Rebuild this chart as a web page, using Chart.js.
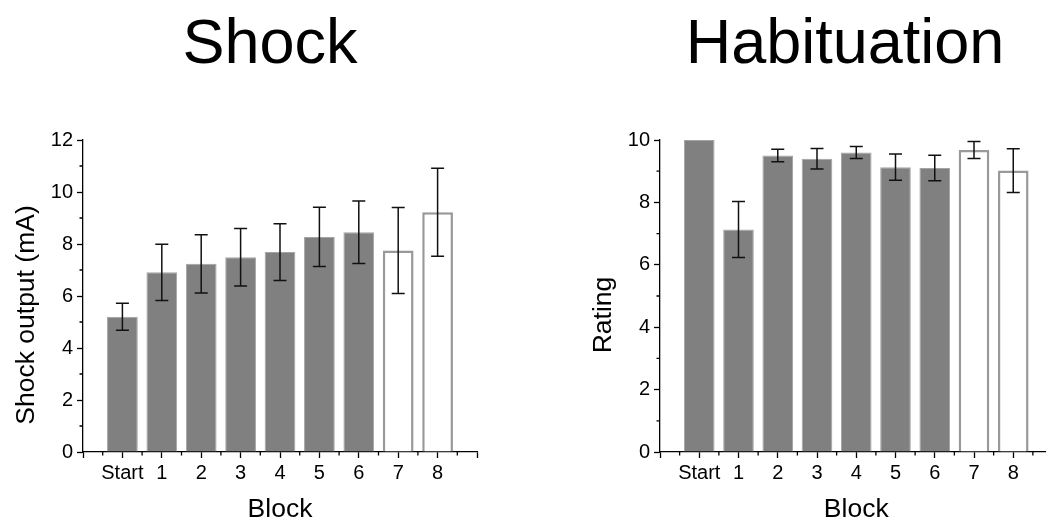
<!DOCTYPE html>
<html><head><meta charset="utf-8">
<script src="https://cdn.jsdelivr.net/npm/chart.js@4/dist/chart.umd.min.js"></script>
<style>
html,body{margin:0;padding:0;overflow:hidden;background:#fff;width:1046px;height:521px;position:relative}
canvas{position:absolute;top:0}
#c1{left:0}
#c2{left:590px}
</style></head><body>
<canvas id="c1" width="540" height="521"></canvas>
<canvas id="c2" width="510" height="521"></canvas>
<script>
const categories = ['Start', '1', '2', '3', '4', '5', '6', '7', '8'];
const shockMean = [5.2, 6.91, 7.24, 7.49, 7.69, 8.27, 8.45, 7.75, 9.22];
const shockErr = [0.52, 1.08, 1.12, 1.11, 1.09, 1.14, 1.2, 1.65, 1.69];
const ratingMean = [10.0, 7.13, 9.5, 9.4, 9.6, 9.13, 9.1, 9.68, 9.02];
const ratingErr = [null, 0.9, 0.2, 0.33, 0.19, 0.42, 0.41, 0.27, 0.7];
const shockTicks = [0, 2, 4, 6, 8, 10, 12];
const ratingTicks = [0, 2, 4, 6, 8, 10];
const openFrom = 7;

const FONT = "'Liberation Sans', Arial, sans-serif";

const errorBars = {
  id: 'errorBars',
  afterDatasetsDraw(chart) {
    const ds = chart.data.datasets[0];
    const xs = chart.scales.x, ys = chart.scales.y, ctx = chart.ctx;
    ctx.save();
    ctx.strokeStyle = '#111';
    ctx.lineWidth = 1.5;
    ds.data.forEach((p, i) => {
      const e = ds.errors[i];
      if (e == null) return;
      const x = xs.getPixelForValue(p.x);
      const y1 = ys.getPixelForValue(p.y + e), y2 = ys.getPixelForValue(p.y - e);
      ctx.beginPath();
      ctx.moveTo(x, y1); ctx.lineTo(x, y2);
      ctx.moveTo(x - 6.5, y1); ctx.lineTo(x + 6.5, y1);
      ctx.moveTo(x - 6.5, y2); ctx.lineTo(x + 6.5, y2);
      ctx.stroke();
    });
    ctx.restore();
  }
};

const extras = {
  id: 'extras',
  afterDraw(chart, args, opts) {
    const ctx = chart.ctx, xs = chart.scales.x, ys = chart.scales.y, a = chart.chartArea;
    ctx.save();
    ctx.strokeStyle = '#000';
    ctx.lineWidth = 1.3;
    ctx.beginPath();
    for (let v = xs.min + 0.5; v < xs.max; v += 1) {
      const x = xs.getPixelForValue(v);
      ctx.moveTo(x, a.bottom); ctx.lineTo(x, a.bottom + 3.5);
    }
    const t = opts.yTicks;
    for (let k = 0; k < t.length - 1; k++) {
      const y = ys.getPixelForValue((t[k] + t[k + 1]) / 2);
      ctx.moveTo(a.left, y); ctx.lineTo(a.left - 3.5, y);
    }
    ctx.stroke();
    ctx.fillStyle = '#000';
    ctx.textBaseline = 'alphabetic';
    ctx.textAlign = 'center';
    ctx.font = '63px ' + FONT;
    ctx.fillText(opts.title, opts.titleCX, 63);
    ctx.font = '26.5px ' + FONT;
    ctx.translate(opts.yTitleX, 315);
    ctx.rotate(-Math.PI / 2);
    ctx.fillText(opts.yTitle, 0, 0);
    ctx.restore();
  }
};

function makeChart(id, c) {
  return new Chart(document.getElementById(id), {
    type: 'bar',
    data: {
      datasets: [{
        data: c.means.map((v, i) => ({ x: i, y: v })),
        errors: c.errs,
        backgroundColor: ctx => ctx.dataIndex >= openFrom ? '#ffffff' : '#808080',
        borderColor: ctx => ctx.dataIndex >= openFrom ? '#999999' : '#a3a3a3',
        borderWidth: ctx => ctx.dataIndex >= openFrom ? 2.5 : 1,
        categoryPercentage: 1,
        barPercentage: 0.78
      }]
    },
    options: {
      responsive: false,
      animation: false,
      devicePixelRatio: 1,
      layout: { padding: { left: 0, right: c.padRight, top: 140, bottom: 0 } },
      plugins: {
        legend: { display: false },
        tooltip: { enabled: false },
        title: { display: false },
        extras: { yTicks: c.yTicks, yTitle: c.yTitle, yTitleX: c.yTitleX, title: c.title, titleCX: c.titleCX }
      },
      scales: {
        x: {
          type: 'linear', min: -1, max: categories.length, offset: false,
          afterBuildTicks: s => {
            const t = [{ value: -1 }];
            categories.forEach((_, i) => t.push({ value: i }));
            t.push({ value: categories.length });
            s.ticks = t;
          },
          afterFit: s => { s.height = 69; },
          grid: { display: true, drawOnChartArea: false, drawTicks: true, tickLength: 6, tickColor: '#000', tickWidth: 1.3, offset: false },
          border: { display: true, color: '#000', width: 1.3 },
          ticks: {
            color: '#000', font: { family: FONT, size: 20 }, padding: 3,
            maxRotation: 0, autoSkip: false,
            callback: v => (categories[v] !== undefined ? categories[v] : '')
          },
          title: {
            display: true, text: 'Block', color: '#000',
            font: { family: FONT, size: 26.5, lineHeight: 1 },
            padding: { top: 0, bottom: -1.75 }
          }
        },
        y: {
          min: 0, max: c.yTicks[c.yTicks.length - 1],
          afterBuildTicks: s => { s.ticks = c.yTicks.map(v => ({ value: v })); },
          afterFit: s => { s.width = c.yWidth; },
          grid: { display: true, drawOnChartArea: false, drawTicks: true, tickLength: 6, tickColor: '#000', tickWidth: 1.3 },
          border: { display: true, color: '#000', width: 1.3 },
          ticks: { color: '#000', font: { family: FONT, size: 20 }, padding: 4 }
        }
      }
    },
    plugins: [errorBars, extras]
  });
}

makeChart('c1', {
  title: 'Shock', titleCX: 270, means: shockMean, errs: shockErr, yTicks: shockTicks,
  yTitle: 'Shock output (mA)', yTitleX: 34, yWidth: 83, padRight: 63
});
makeChart('c2', {
  title: 'Habituation', titleCX: 255, means: ratingMean, errs: ratingErr, yTicks: ratingTicks,
  yTitle: 'Rating', yTitleX: 21, yWidth: 70, padRight: 47.5
});
</script>
</body></html>
